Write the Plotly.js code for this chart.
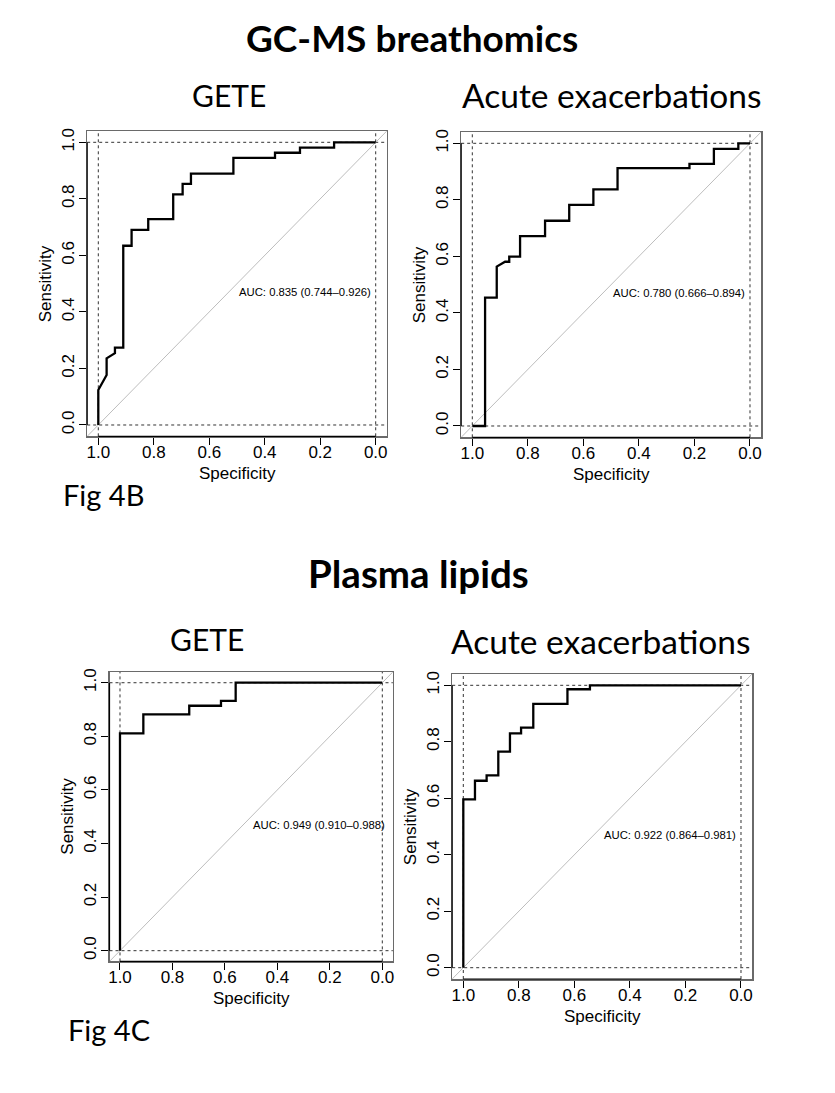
<!DOCTYPE html>
<html>
<head>
<meta charset="utf-8">
<script src="https://cdn.plot.ly/plotly-3.0.1.min.js"></script>
<style>html,body{margin:0;padding:0;background:#fff;}#chart{width:835px;height:1093px;}</style>
</head>
<body>
<div id="chart"></div>
<script>
// ---- data (specificity, sensitivity) ----
const gcGeteSpec = [1, 1, 0.97, 0.97, 0.94, 0.94, 0.91, 0.91, 0.88, 0.88, 0.82, 0.82, 0.73, 0.73, 0.696, 0.696, 0.666, 0.666, 0.513, 0.513, 0.363, 0.363, 0.273, 0.273, 0.15, 0.15, 0];
const gcGeteSens = [0, 0.124, 0.177, 0.236, 0.254, 0.274, 0.274, 0.634, 0.634, 0.69, 0.69, 0.728, 0.728, 0.816, 0.816, 0.853, 0.853, 0.889, 0.889, 0.945, 0.945, 0.963, 0.963, 0.981, 0.981, 1, 1];

const gcAcuteSpec = [1, 0.954, 0.954, 0.912, 0.912, 0.882, 0.867, 0.867, 0.828, 0.828, 0.738, 0.738, 0.651, 0.651, 0.564, 0.564, 0.477, 0.477, 0.218, 0.218, 0.13, 0.13, 0.042, 0.042, 0];
const gcAcuteSens = [0, 0, 0.454, 0.454, 0.564, 0.581, 0.581, 0.599, 0.599, 0.672, 0.672, 0.726, 0.726, 0.782, 0.782, 0.837, 0.837, 0.912, 0.912, 0.927, 0.927, 0.98, 0.98, 1, 1];

const lipGeteSpec = [1, 1, 0.911, 0.911, 0.736, 0.736, 0.615, 0.615, 0.559, 0.559, 0];
const lipGeteSens = [0, 0.811, 0.811, 0.882, 0.882, 0.914, 0.914, 0.932, 0.932, 1, 1];

const lipAcuteSpec = [1, 1, 0.958, 0.958, 0.916, 0.916, 0.874, 0.874, 0.832, 0.832, 0.792, 0.792, 0.748, 0.748, 0.625, 0.625, 0.544, 0.544, 0];
const lipAcuteSens = [0, 0.596, 0.596, 0.662, 0.662, 0.681, 0.681, 0.765, 0.765, 0.830, 0.830, 0.850, 0.850, 0.934, 0.934, 0.986, 0.986, 1, 1];

const aucLabels = ["AUC: 0.835 (0.744\u20130.926)", "AUC: 0.780 (0.666\u20130.894)", "AUC: 0.949 (0.910\u20130.988)", "AUC: 0.922 (0.864\u20130.981)"];
const panelTitles = ["GETE", "Acute exacerbations", "GETE", "Acute exacerbations"];
const sectionTitles = ["GC-MS breathomics", "Plasma lipids"];
const figLabels = ["Fig 4B", "Fig 4C"];
const xTitle = "Specificity";
const yTitle = "Sensitivity";

// ---- layout geometry (pixels) ----
const W = 835, H = 1093;
const boxes = [
  {l: 87.2, r: 386.8, t: 131.0, b: 436.3},
  {l: 461.2, r: 761.1, t: 132.0, b: 437.3},
  {l: 109.5, r: 392.8, t: 672.0, b: 961.4},
  {l: 452.2, r: 752.1, t: 674.0, b: 979.0}
];
const series = [
  [gcGeteSpec, gcGeteSens],
  [gcAcuteSpec, gcAcuteSens],
  [lipGeteSpec, lipGeteSens],
  [lipAcuteSpec, lipAcuteSens]
];
const RANGE_X = [1.04, -0.04], RANGE_Y = [-0.04, 1.04];
const axFont = {family: "Liberation Sans, Arial, sans-serif", size: 17, color: "#000"};
const calib = "Lato, Carlito, Calibri, sans-serif";

const traces = [];
const layout = {
  width: W, height: H,
  margin: {l: 0, r: 0, t: 0, b: 0},
  paper_bgcolor: "#fff", plot_bgcolor: "#fff",
  showlegend: false,
  shapes: [], annotations: []
};

boxes.forEach((bx, i) => {
  const n = i + 1;
  const xa = "x" + (n === 1 ? "" : n), ya = "y" + (n === 1 ? "" : n);
  const xk = "xaxis" + (n === 1 ? "" : n), yk = "yaxis" + (n === 1 ? "" : n);
  layout[xk] = {
    domain: [bx.l / W, bx.r / W], anchor: ya, range: RANGE_X,
    showgrid: false, zeroline: false, showline: true, mirror: true,
    linecolor: "#6a6a6a", linewidth: 1.5,
    ticks: "outside", ticklen: 7, tickcolor: "#000", tickwidth: 1,
    tick0: 0, dtick: 0.2, tickformat: ".1f", tickfont: axFont,
    ticklabelstandoff: -7
  };
  layout[yk] = {
    domain: [1 - bx.b / H, 1 - bx.t / H], anchor: xa, range: RANGE_Y,
    showgrid: false, zeroline: false, showline: true, mirror: true,
    linecolor: "#6a6a6a", linewidth: 1.5,
    ticks: "outside", ticklen: 7, tickcolor: "#000", tickwidth: 1,
    tick0: 0, dtick: 0.2, tickformat: ".1f", tickfont: axFont, tickangle: -90,
    ticklabelstandoff: -2
  };
  // axis titles, placed as in the R output
  layout.annotations.push({
    xref: xa + " domain", yref: "paper", x: 0.5, y: 1 - (bx.b + 37.5) / H,
    xanchor: "center", yanchor: "middle", showarrow: false, text: xTitle, font: axFont
  });
  layout.annotations.push({
    xref: "paper", yref: ya + " domain", x: (bx.l - 41.5) / W, y: 0.5,
    xanchor: "center", yanchor: "middle", showarrow: false, textangle: -90, text: yTitle, font: axFont
  });
  // diagonal reference line across the whole plotting region
  traces.push({
    type: "scatter", mode: "lines", xaxis: xa, yaxis: ya,
    x: [RANGE_X[0], RANGE_X[1]], y: [RANGE_Y[0], RANGE_Y[1]],
    line: {color: "#bdbdbd", width: 1}, hoverinfo: "skip"
  });
  // ROC curve
  traces.push({
    type: "scatter", mode: "lines", xaxis: xa, yaxis: ya,
    x: series[i][0], y: series[i][1],
    line: {color: "#000", width: 2.3}
  });
  // dotted guide lines at 0 and 1
  [0, 1].forEach(v => {
    layout.shapes.push({type: "line", xref: xa, yref: ya + " domain", x0: v, x1: v, y0: 0, y1: 1,
      line: {color: "#333", width: 1, dash: "dot"}, layer: "below"});
    layout.shapes.push({type: "line", xref: xa + " domain", yref: ya, x0: 0, x1: 1, y0: v, y1: v,
      line: {color: "#333", width: 1, dash: "dot"}, layer: "below"});
  });
  // black axis segments between extreme ticks (R style)
  layout.shapes.push({type: "line", xref: xa, yref: ya + " domain", x0: 1, x1: 0, y0: 0, y1: 0,
    line: {color: "#000", width: 1.2}});
  layout.shapes.push({type: "line", xref: xa + " domain", yref: ya, x0: 0, x1: 0, y0: 0, y1: 1,
    line: {color: "#000", width: 1.2}});
  // AUC label
  layout.annotations.push({
    xref: xa, yref: ya, x: 0.5, y: 0.5, xanchor: "left", yanchor: "top",
    text: aucLabels[i], showarrow: false,
    font: {family: "Liberation Sans, Arial, sans-serif", size: 11.3, color: "#000"}
  });
});

function ann(text, xpx, ypx, size, bold) {
  layout.annotations.push({
    xref: "paper", yref: "paper", x: xpx / W, y: 1 - ypx / H,
    xanchor: "center", yanchor: "middle", showarrow: false,
    text: bold ? "<b>" + text + "</b>" : text,
    font: {family: calib, size: size, color: "#000"}
  });
}
ann(sectionTitles[0], 412, 37, 37, true);
ann(panelTitles[0], 229, 95, 30, false);
ann(panelTitles[1], 612, 95, 33.5, false);
ann(sectionTitles[1], 418, 573, 38.5, true);
ann(panelTitles[2], 207, 639, 30, false);
ann(panelTitles[3], 601, 641, 33.5, false);
layout.annotations.push({xref: "paper", yref: "paper", x: 61 / W, y: 1 - 495 / H, xanchor: "left", yanchor: "middle",
  showarrow: false, text: figLabels[0], font: {family: calib, size: 29, color: "#000"}});
layout.annotations.push({xref: "paper", yref: "paper", x: 66 / W, y: 1 - 1029 / H, xanchor: "left", yanchor: "middle",
  showarrow: false, text: figLabels[1], font: {family: calib, size: 29, color: "#000"}});

Plotly.newPlot("chart", traces, layout, {staticPlot: true, displayModeBar: false});
</script>
</body>
</html>
